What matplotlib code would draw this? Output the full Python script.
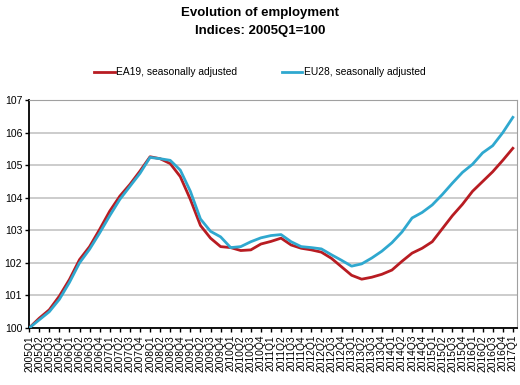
import matplotlib.pyplot as plt
import matplotlib.font_manager as fm

# quarters 2005Q1 .. 2017Q1
quarters = [f'{y}Q{q}' for y in range(2005, 2018) for q in range(1, 5)][:49]

ea19 = [100.0, 100.3, 100.56, 100.98, 101.49, 102.1, 102.5, 103.03, 103.59, 104.05,
        104.41, 104.82, 105.26, 105.2, 105.05, 104.65, 103.95, 103.15, 102.76, 102.5,
        102.47, 102.38, 102.4, 102.58, 102.66, 102.76, 102.55, 102.45, 102.4, 102.33,
        102.14, 101.88, 101.62, 101.5, 101.56, 101.65, 101.78, 102.05, 102.3, 102.45,
        102.65, 103.05, 103.45, 103.8, 104.2, 104.5, 104.8, 105.15, 105.52]

eu28 = [100.0, 100.25, 100.5, 100.88, 101.4, 102.0, 102.42, 102.92, 103.45, 103.95,
        104.35, 104.75, 105.24, 105.2, 105.15, 104.85, 104.2, 103.35, 102.97, 102.8,
        102.47, 102.5, 102.65, 102.77, 102.84, 102.87, 102.65, 102.5, 102.47, 102.43,
        102.25, 102.08, 101.9, 101.97, 102.15, 102.36, 102.62, 102.95, 103.38, 103.55,
        103.78, 104.1, 104.45, 104.78, 105.03, 105.38, 105.6, 106.0, 106.47]

names = [f.name for f in fm.fontManager.ttflist]
font = 'Liberation Sans Narrow' if 'Liberation Sans Narrow' in names else 'Liberation Sans'
plt.rcParams['font.family'] = [font, 'DejaVu Sans']

fig = plt.figure(figsize=(5.2, 3.85), dpi=100)
ax = fig.add_axes([0.056, 0.148, 0.938, 0.592])

x = list(range(len(quarters)))
ax.plot(x, ea19, color='#B81C22', lw=2.0, label='EA19, seasonally adjusted', zorder=3)
ax.plot(x, eu28, color='#2FA8CF', lw=2.0, label='EU28, seasonally adjusted', zorder=3)

ax.set_xlim(0, 48.4)
ax.set_ylim(100, 107)
ax.set_yticks(range(100, 108))
ax.set_yticklabels([str(v) for v in range(100, 108)], fontsize=7.5)
ax.set_xticks(x)
ax.set_xticklabels(quarters, rotation=90, fontsize=7.4)
ax.grid(axis='y', color='#C8C8C8', lw=1.3)
ax.set_axisbelow(True)
ax.tick_params(axis='both', direction='out', length=3, width=1, color='black', pad=2)

for s in ['top', 'right']:
    ax.spines[s].set_color('#A0A0A0')
for s in ['left', 'bottom']:
    ax.spines[s].set_color('black')
    ax.spines[s].set_linewidth(1.3)

fig.text(0.5, 0.967, 'Evolution of employment', ha='center', va='center',
         fontsize=9.5, fontweight='bold')
fig.text(0.5, 0.919, 'Indices: 2005Q1=100', ha='center', va='center',
         fontsize=9.5, fontweight='bold')

fig.legend(loc='center', bbox_to_anchor=(0.5, 0.812), ncol=2, frameon=False,
           fontsize=7.4, handlelength=2.0, handletextpad=0.15, columnspacing=4.3)

fig.savefig('out.png', dpi=100)
